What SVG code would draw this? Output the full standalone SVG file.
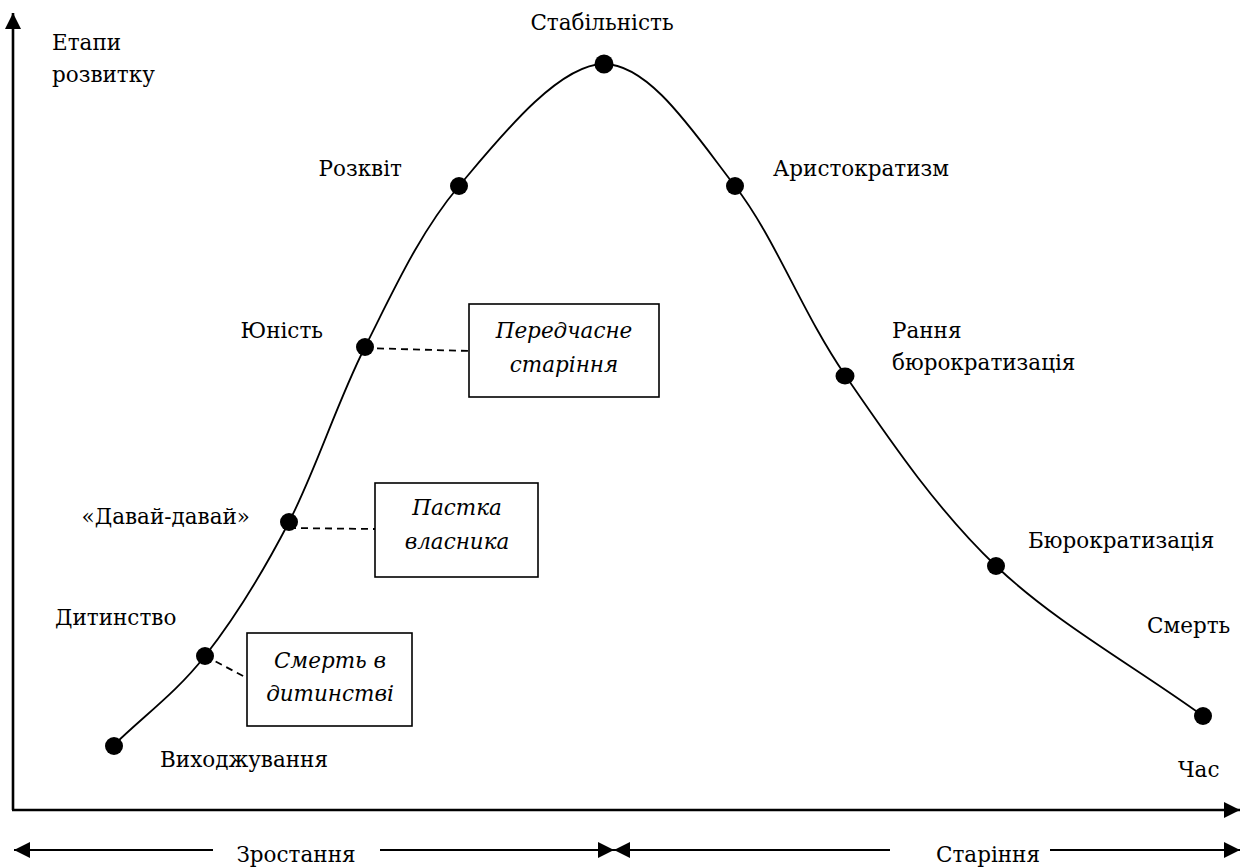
<svg xmlns="http://www.w3.org/2000/svg" width="1245" height="867" viewBox="0 0 1245 867">
<style>
text{font-family:"DejaVu Serif","Liberation Serif",serif;font-size:21.5px;fill:#000}
.it{font-style:italic}
.dot{fill:#000}
.box{fill:#fff;stroke:#000;stroke-width:1.6}
.axis{stroke:#000;stroke-width:2.6;fill:none}
.span{stroke:#000;stroke-width:2.2;fill:none}
.dash{stroke:#000;stroke-width:1.8;stroke-dasharray:7,5;fill:none}
.curve{stroke:#000;stroke-width:1.8;fill:none}
</style>
<defs>
<marker id="ah" viewBox="0 0 16 16" refX="16" refY="8" markerWidth="16" markerHeight="16" markerUnits="userSpaceOnUse" orient="auto-start-reverse"><path d="M0,0 L16,8 L0,16 Z" fill="#000"/></marker>
</defs>
<g id="axes">
<line class="axis" x1="13" y1="810" x2="13" y2="13" marker-end="url(#ah)"/>
<line class="axis" x1="12" y1="810" x2="1240" y2="810" marker-end="url(#ah)"/>
<text x="52" y="50">Етапи</text>
<text x="52" y="82">розвитку</text>
<text x="1178" y="777">Час</text>
</g>
<g id="periods">
<line class="span" x1="213" y1="850" x2="14" y2="850" marker-end="url(#ah)"/>
<line class="span" x1="380" y1="850" x2="614" y2="850" marker-end="url(#ah)"/>
<text x="296" y="862" text-anchor="middle">Зростання</text>
<line class="span" x1="890" y1="850" x2="614" y2="850" marker-end="url(#ah)"/>
<line class="span" x1="1050" y1="850" x2="1240" y2="850" marker-end="url(#ah)"/>
<text x="988" y="862" text-anchor="middle">Старіння</text>
</g>
<g id="curve">
<path class="curve" d="M114,745 C144.3,715.3 175.8,693.2 205,656 C234.2,618.8 262.3,573.5 289,522 C315.7,470.5 336.7,403 365,347 C393.3,291 419.2,233.2 459,186 C498.8,138.8 558,64 604,64 C650,64 694.8,134.2 735,186 C775.2,237.8 801.5,311.7 845,375 C888.5,438.3 936.3,509.2 996,566 C1055.7,622.8 1134,666 1203,716"/>
</g>
<g id="connectors">
<line class="dash" x1="205" y1="656" x2="247" y2="678"/>
<line class="dash" x1="289" y1="528" x2="375" y2="529"/>
<line class="dash" x1="365" y1="348" x2="469" y2="351"/>
</g>
<g id="node-vykhodzhuvannia"><circle class="dot" cx="114" cy="746" r="9"/><text x="160" y="767">Виходжування</text></g>
<g id="node-dytynstvo"><circle class="dot" cx="205" cy="656" r="9"/><text x="55" y="625">Дитинство</text></g>
<g id="node-davai"><circle class="dot" cx="289" cy="522" r="9"/><text x="250" y="524" text-anchor="end">«Давай-давай»</text></g>
<g id="node-yunist"><circle class="dot" cx="365" cy="347" r="9"/><text x="323" y="338" text-anchor="end">Юність</text></g>
<g id="node-rozkvit"><circle class="dot" cx="459" cy="186" r="9"/><text x="402" y="176" text-anchor="end">Розквіт</text></g>
<g id="node-stabilnist"><circle class="dot" cx="604" cy="64" r="9.5"/><text x="602" y="30" text-anchor="middle">Стабільність</text></g>
<g id="node-aristokratyzm"><circle class="dot" cx="735" cy="186" r="9"/><text x="773" y="176">Аристократизм</text></g>
<g id="node-rannia"><ellipse class="dot" cx="845" cy="376" rx="9.5" ry="8.5"/><text x="892" y="338">Рання</text><text x="892" y="370">бюрократизація</text></g>
<g id="node-biurokratyzatsiia"><circle class="dot" cx="996" cy="566" r="9"/><text x="1028" y="548">Бюрократизація</text></g>
<g id="node-smert"><circle class="dot" cx="1203" cy="716" r="9"/><text x="1147" y="633">Смерть</text></g>
<g id="box-peredchasne"><rect class="box" x="469" y="304" width="190" height="93"/><text class="it" x="564" y="338" text-anchor="middle">Передчасне</text><text class="it" x="564" y="372" text-anchor="middle">старіння</text></g>
<g id="box-pastka"><rect class="box" x="375" y="483" width="163" height="94"/><text class="it" x="457" y="515" text-anchor="middle">Пастка</text><text class="it" x="457" y="549" text-anchor="middle">власника</text></g>
<g id="box-smert-dytynstvi"><rect class="box" x="247" y="633" width="165" height="93"/><text class="it" x="330" y="668" text-anchor="middle">Смерть в</text><text class="it" x="330" y="701" text-anchor="middle">дитинстві</text></g>
</svg>
